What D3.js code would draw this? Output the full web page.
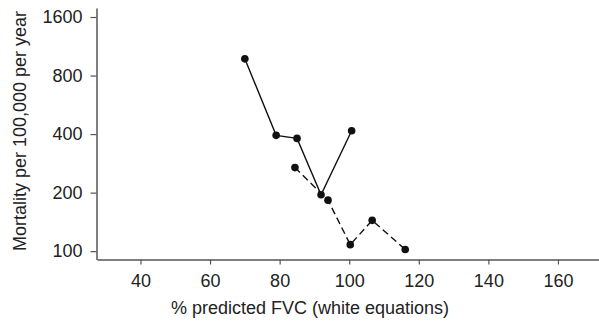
<!DOCTYPE html>
<html>
<meta charset="utf-8">
<style>
 body { margin: 0; background: #fff; }
 text { font-family: "Liberation Sans", Arial, sans-serif; fill: #222; }
 .tick text { font-size: 18px; }
 .axis_title { font-size: 18px; }
</style>
<body>
<script src="https://cdn.jsdelivr.net/npm/d3@7"></script>
<script>

var width = 599
var height = 322

// two series
var solidFvc = [70, 79, 85, 91.9, 100.7]
var solidMort = [975, 394, 380, 195, 416]
var dashedFvc = [84.4, 93.9, 100.3, 106.6, 116.1]
var dashedMort = [269, 183, 108, 144, 102]

var xTicks = [40, 60, 80, 100, 120, 140, 160]
var yTicks = [100, 200, 400, 800, 1600]

var svg = d3.select("body")
  .append("svg")
  .attr("width", width)
  .attr("height", height);

var x = d3.scaleLinear().domain([27.5, 171.8]).range([97, 599]);
var y = d3.scaleLog().base(2).domain([90.6, 1780]).range([259.5, 8]);

var xAxis = d3.axisBottom(x).tickValues(xTicks).tickSize(5).tickPadding(10).tickSizeOuter(0);
var yAxis = d3.axisLeft(y).tickValues(yTicks).tickFormat(d3.format("d")).tickSize(6).tickPadding(8).tickSizeOuter(0);

var gx = svg.append("g")
  .attr("transform", "translate(0," + 259.5 + ")")
  .call(xAxis);
var gy = svg.append("g")
  .attr("transform", "translate(" + 96.5 + ",0)")
  .call(yAxis);

[gx, gy].forEach(function (g) {
  g.select(".domain").attr("stroke", "#555").attr("stroke-width", 1.5);
  g.selectAll(".tick line").attr("stroke", "#555").attr("stroke-width", 1.2);
  g.selectAll(".tick text").attr("fill", "#222").attr("font-family", null).attr("font-size", null);
});

var line = d3.line()
  .x(function (d) { return x(d[0]); })
  .y(function (d) { return y(d[1]); });

var solid = d3.zip(solidFvc, solidMort);
var dashed = d3.zip(dashedFvc, dashedMort);

svg.append("path")
  .datum(solid)
  .attr("d", line)
  .attr("fill", "none")
  .attr("stroke", "#111")
  .attr("stroke-width", 1.4);

svg.append("path")
  .datum(dashed)
  .attr("d", line)
  .attr("fill", "none")
  .attr("stroke", "#111")
  .attr("stroke-width", 1.4)
  .attr("stroke-dasharray", "7,4");

svg.selectAll("circle.pt")
  .data(solid.concat(dashed))
  .enter()
  .append("circle")
    .attr("class", "pt")
    .attr("cx", function (d) { return x(d[0]); })
    .attr("cy", function (d) { return y(d[1]); })
    .attr("r", 3.8)
    .attr("fill", "#111");

// axis titles
svg.append("text")
  .attr("class", "axis_title")
  .attr("text-anchor", "middle")
  .attr("x", 310)
  .attr("y", 314)
  .text("% predicted FVC (white equations)");

svg.append("text")
  .attr("class", "axis_title")
  .attr("text-anchor", "middle")
  .attr("transform", "translate(26,131) rotate(-90)")
  .text("Mortality per 100,000 per year");

</script>
</body>
</html>
